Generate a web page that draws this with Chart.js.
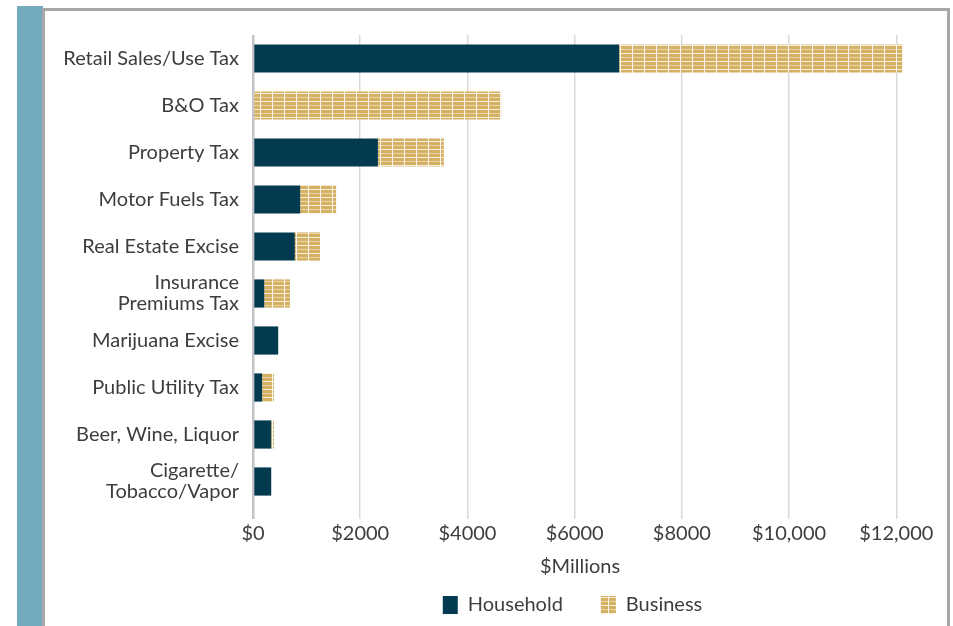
<!DOCTYPE html>
<html>
<head>
<meta charset="utf-8">
<script src="https://cdn.jsdelivr.net/npm/chart.js@4.4.1/dist/chart.umd.min.js"></script>
<style>
  html, body { margin: 0; padding: 0; background: #fff; }
  body { width: 953px; height: 626px; position: relative; overflow: hidden; }
  .strip { position: absolute; left: 17px; top: 6px; width: 26px; height: 640px; background: #73aabe; }
  .frame {
    position: absolute; left: 42px; top: 8px; width: 902px; height: 640px;
    border: 3px solid #a7a7a7; border-bottom: none; background: #fff;
  }
  .chart-box { position: absolute; left: 0; top: 0; width: 900px; height: 615px; }
</style>
</head>
<body>
<div class="strip"></div>
<div class="frame">
  <div class="chart-box"><canvas id="taxChart"></canvas></div>
</div>
<script>
const categories = [
  'Retail Sales/Use Tax',
  'B&O Tax',
  'Property Tax',
  'Motor Fuels Tax',
  'Real Estate Excise',
  ['Insurance', 'Premiums Tax'],
  'Marijuana Excise',
  'Public Utility Tax',
  'Beer, Wine, Liquor',
  ['Cigarette/', 'Tobacco/Vapor']
];

// $ millions
const household = [6830, 0, 2330, 880, 780, 210, 470, 170, 340, 340];
const business = [5280, 4630, 1230, 670, 470, 480, 0, 220, 50, 0];

const xTicks = [0, 2000, 4000, 6000, 8000, 10000, 12000];

const NAVY = '#033a4f';
const TAN = '#d4b062';
const FONT = 'Lato, "Open Sans", sans-serif';
const TEXT = '#3d3d3d';

// brick-like fill for the business segments
function makeBrickPattern() {
  const c = document.createElement('canvas');
  c.width = 12;
  c.height = 8;
  const g = c.getContext('2d');
  g.fillStyle = TAN;
  g.fillRect(0, 0, 12, 8);
  g.fillStyle = 'rgba(255,255,255,0.8)';
  g.fillRect(0, 2, 12, 1);
  g.fillStyle = 'rgba(255,250,235,0.5)';
  g.fillRect(0, 6, 12, 1);
  g.fillStyle = 'rgba(255,255,255,0.9)';
  g.fillRect(11, 0, 1, 8);
  return g.createPattern(c, 'repeat');
}

function money(v) {
  return v >= 10000 ? '$' + v.toLocaleString('en-US') : '$' + v;
}

const brick = makeBrickPattern();

new Chart(document.getElementById('taxChart'), {
  type: 'bar',
  data: {
    labels: categories,
    datasets: [
      {
        label: 'Household',
        data: household,
        backgroundColor: NAVY,
        borderWidth: 0,
        categoryPercentage: 0.6,
        barPercentage: 1
      },
      {
        label: 'Business',
        data: business,
        backgroundColor: brick,
        borderWidth: 0,
        categoryPercentage: 0.6,
        barPercentage: 1
      }
    ]
  },
  options: {
    indexAxis: 'y',
    responsive: true,
    maintainAspectRatio: false,
    animation: false,
    layout: { padding: { top: 24, right: 38, bottom: 1, left: 0 } },
    plugins: {
      tooltip: { enabled: false },
      legend: {
        position: 'bottom',
        fullSize: false,
        labels: {
          color: TEXT,
          font: { family: FONT, size: 20 },
          boxWidth: 15,
          boxHeight: 18,
          padding: 8,
          // wider gap between the two entries, nudged a little to the left
          generateLabels: chart => {
            const items = Chart.defaults.plugins.legend.labels.generateLabels(chart);
            items[0].text += '\u2003\u2003';
            items[1].text += '\u2003';
            return items;
          }
        }
      }
    },
    scales: {
      x: {
        type: 'linear',
        stacked: true,
        min: 0,
        max: 12200,
        afterBuildTicks: scale => {
          scale.ticks = xTicks.map(value => ({ value }));
        },
        grid: {
          color: ctx => (ctx.tick && ctx.tick.value === 0 ? '#c3c3c8' : '#d9d9d9'),
          lineWidth: ctx => (ctx.tick && ctx.tick.value === 0 ? 2.5 : 1.5),
          tickLength: 14
        },
        border: { display: false },
        ticks: {
          color: TEXT,
          font: { family: FONT, size: 20 },
          padding: 3,
          callback: value => money(value)
        },
        title: {
          display: true,
          text: '$Millions',
          color: TEXT,
          font: { family: FONT, size: 20 },
          padding: { top: 6, bottom: 8 }
        }
      },
      y: {
        type: 'category',
        stacked: true,
        afterFit: scale => {
          scale.width = 208;
          scale.paddingTop = 0;
          scale.paddingBottom = 0;
        },
        grid: { display: false, drawTicks: false },
        border: { display: false },
        ticks: {
          color: TEXT,
          font: { family: FONT, size: 20, lineHeight: 1.05 },
          padding: 14,
          autoSkip: false
        }
      }
    }
  }
});
</script>
</body>
</html>
